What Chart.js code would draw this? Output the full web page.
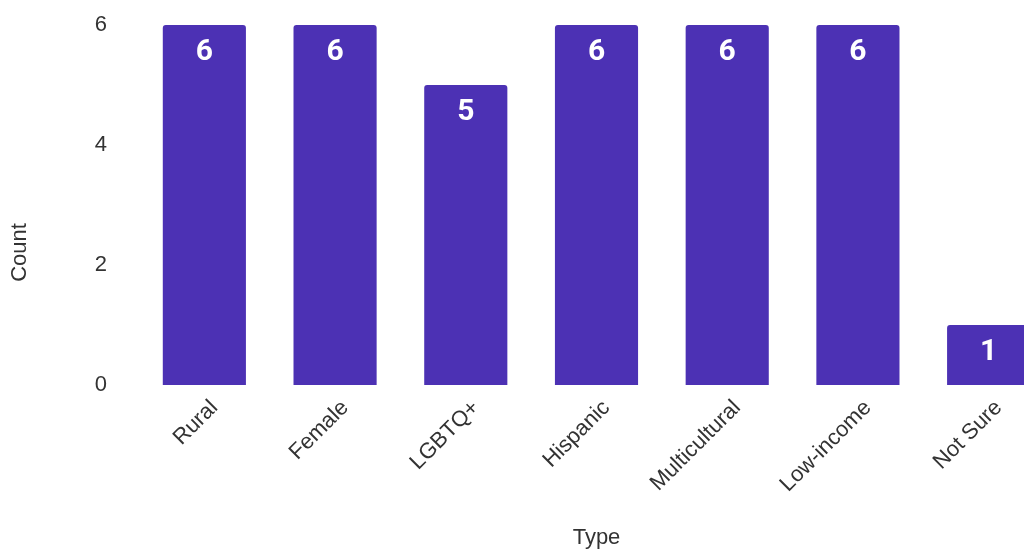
<!DOCTYPE html>
<html>
<head>
<meta charset="utf-8">
<script src="https://cdn.jsdelivr.net/npm/chart.js@4"></script>
<style>
  html, body { margin: 0; padding: 0; background: #fff; overflow: hidden; }
  #wrap { width: 1054px; height: 553px; position: relative; }
</style>
</head>
<body>
<div id="wrap"><canvas id="chartCanvas"></canvas></div>
<script>
// Data
const categories = ["Rural", "Female", "LGBTQ+", "Hispanic", "Multicultural", "Low-income", "Not Sure"];
const counts = [6, 6, 5, 6, 6, 6, 1];
const yTicks = [0, 2, 4, 6];
const yTitle = 'Count';
const xTitle = 'Type';

const axisFont = { family: '"Liberation Sans", Arial, sans-serif', size: 22 };

// value labels inside the top of each bar + y title centred on the page
const barLabels = {
  id: 'barLabels',
  afterDatasetsDraw(chart) {
    const ctx = chart.ctx;
    const meta = chart.getDatasetMeta(0);
    ctx.save();
    ctx.fillStyle = '#ffffff';
    ctx.font = 'bold 30px Roboto, "Open Sans", sans-serif';
    ctx.textAlign = 'center';
    ctx.textBaseline = 'middle';
    meta.data.forEach((bar, i) => {
      ctx.fillText(String(counts[i]), bar.x, bar.y + 27);
    });
    ctx.restore();

    // y axis title
    ctx.save();
    ctx.fillStyle = '#333';
    ctx.font = '22px "Liberation Sans", Arial, sans-serif';
    ctx.textAlign = 'center';
    ctx.textBaseline = 'middle';
    ctx.translate(20, chart.height / 2 - 24);
    ctx.rotate(-Math.PI / 2);
    ctx.fillText(yTitle, 0, 0);
    ctx.restore();
  }
};

new Chart(document.getElementById('chartCanvas'), {
  type: 'bar',
  data: {
    labels: categories,
    datasets: [{
      label: yTitle,
      data: counts,
      backgroundColor: '#4C31B4',
      borderRadius: { topLeft: 3, topRight: 3 },
      borderSkipped: 'bottom',
      categoryPercentage: 1,
      barPercentage: 0.636
    }]
  },
  options: {
    responsive: true,
    maintainAspectRatio: false,
    animation: false,
    layout: { padding: { top: 25, left: 0, right: 0, bottom: 0 } },
    plugins: {
      legend: { display: false },
      tooltip: { enabled: false }
    },
    scales: {
      x: {
        grid: { display: false, drawTicks: false },
        border: { display: false },
        afterFit: scale => { scale.height = 168; scale.paddingLeft = 0; scale.paddingRight = 0; },
        ticks: {
          color: '#333',
          font: axisFont,
          minRotation: 45,
          maxRotation: 45,
          padding: 10,
          labelOffset: 10
        },
        title: {
          display: true,
          text: xTitle,
          color: '#333',
          font: axisFont,
          padding: { top: 0, bottom: 2 }
        }
      },
      y: {
        min: 0,
        max: 6,
        grid: { display: false, drawTicks: false },
        border: { display: false },
        afterFit: scale => { scale.width = 139; scale.paddingTop = 0; scale.paddingBottom = 0; },
        afterBuildTicks: scale => { scale.ticks = yTicks.map(v => ({ value: v })); },
        ticks: {
          color: '#333',
          font: axisFont,
          padding: 32
        },
        title: { display: false }
      }
    }
  },
  plugins: [barLabels]
});
</script>
</body>
</html>
